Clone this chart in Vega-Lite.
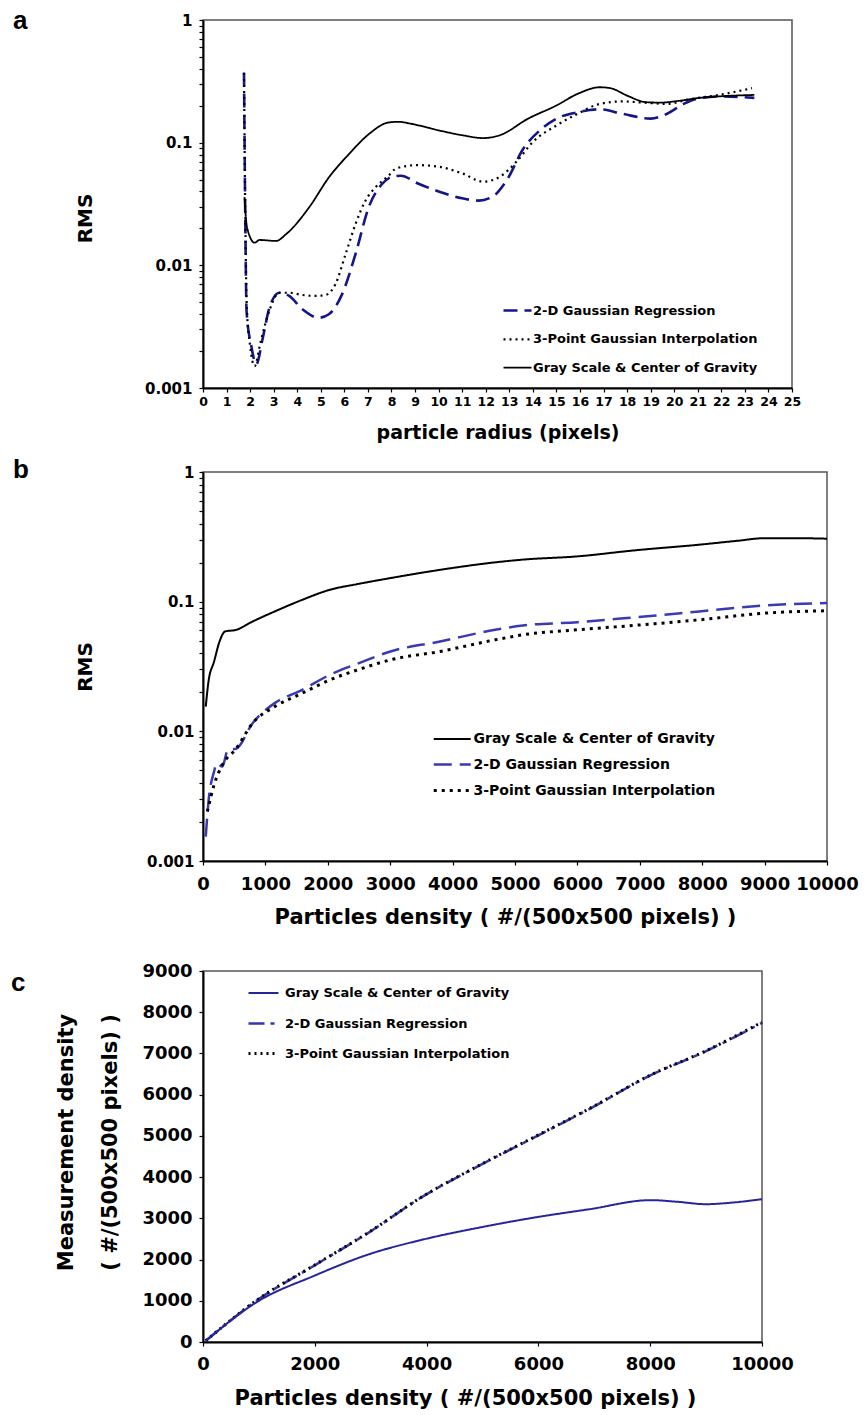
{
"$schema":"https://vega.github.io/schema/vega-lite/v6.json",
"padding":{"top":7,"left":10,"right":5,"bottom":5},
"background":"white",
"datasets":{
"pa":[
{"x":1.74,"y":0.373,"s":"2-D Gaussian Regression"},{"x":1.79,"y":0.03,"s":"2-D Gaussian Regression"},{"x":1.85,"y":0.0042,"s":"2-D Gaussian Regression"},{"x":2.05,"y":0.0022,"s":"2-D Gaussian Regression"},{"x":2.26,"y":0.00156,"s":"2-D Gaussian Regression"},{"x":2.54,"y":0.00257,"s":"2-D Gaussian Regression"},{"x":2.82,"y":0.00452,"s":"2-D Gaussian Regression"},{"x":3.24,"y":0.00598,"s":"2-D Gaussian Regression"},{"x":3.66,"y":0.00563,"s":"2-D Gaussian Regression"},{"x":4.22,"y":0.00438,"s":"2-D Gaussian Regression"},{"x":4.92,"y":0.00374,"s":"2-D Gaussian Regression"},{"x":5.34,"y":0.00399,"s":"2-D Gaussian Regression"},{"x":5.9,"y":0.0058,"s":"2-D Gaussian Regression"},{"x":6.47,"y":0.0123,"s":"2-D Gaussian Regression"},{"x":7.03,"y":0.0296,"s":"2-D Gaussian Regression"},{"x":7.59,"y":0.0458,"s":"2-D Gaussian Regression"},{"x":8.0,"y":0.0525,"s":"2-D Gaussian Regression"},{"x":8.4,"y":0.0538,"s":"2-D Gaussian Regression"},{"x":9.1,"y":0.0467,"s":"2-D Gaussian Regression"},{"x":10,"y":0.04,"s":"2-D Gaussian Regression"},{"x":11,"y":0.0352,"s":"2-D Gaussian Regression"},{"x":11.7,"y":0.0337,"s":"2-D Gaussian Regression"},{"x":12.3,"y":0.0364,"s":"2-D Gaussian Regression"},{"x":12.9,"y":0.0497,"s":"2-D Gaussian Regression"},{"x":13.6,"y":0.0895,"s":"2-D Gaussian Regression"},{"x":14.3,"y":0.126,"s":"2-D Gaussian Regression"},{"x":15,"y":0.157,"s":"2-D Gaussian Regression"},{"x":15.9,"y":0.177,"s":"2-D Gaussian Regression"},{"x":16.85,"y":0.187,"s":"2-D Gaussian Regression"},{"x":17.8,"y":0.172,"s":"2-D Gaussian Regression"},{"x":19,"y":0.157,"s":"2-D Gaussian Regression"},{"x":19.7,"y":0.172,"s":"2-D Gaussian Regression"},{"x":20.4,"y":0.207,"s":"2-D Gaussian Regression"},{"x":21.1,"y":0.231,"s":"2-D Gaussian Regression"},{"x":22,"y":0.238,"s":"2-D Gaussian Regression"},{"x":23.4,"y":0.232,"s":"2-D Gaussian Regression"},
{"x":1.74,"y":0.37,"s":"3-Point Gaussian Interpolation"},{"x":1.79,"y":0.03,"s":"3-Point Gaussian Interpolation"},{"x":1.86,"y":0.0045,"s":"3-Point Gaussian Interpolation"},{"x":2.0,"y":0.0022,"s":"3-Point Gaussian Interpolation"},{"x":2.19,"y":0.00151,"s":"3-Point Gaussian Interpolation"},{"x":2.45,"y":0.0024,"s":"3-Point Gaussian Interpolation"},{"x":2.82,"y":0.0043,"s":"3-Point Gaussian Interpolation"},{"x":3.24,"y":0.00598,"s":"3-Point Gaussian Interpolation"},{"x":3.66,"y":0.00598,"s":"3-Point Gaussian Interpolation"},{"x":4.22,"y":0.00573,"s":"3-Point Gaussian Interpolation"},{"x":4.78,"y":0.00563,"s":"3-Point Gaussian Interpolation"},{"x":5.2,"y":0.00573,"s":"3-Point Gaussian Interpolation"},{"x":5.62,"y":0.00701,"s":"3-Point Gaussian Interpolation"},{"x":6.05,"y":0.0123,"s":"3-Point Gaussian Interpolation"},{"x":6.47,"y":0.0216,"s":"3-Point Gaussian Interpolation"},{"x":6.89,"y":0.0335,"s":"3-Point Gaussian Interpolation"},{"x":7.31,"y":0.043,"s":"3-Point Gaussian Interpolation"},{"x":7.87,"y":0.0536,"s":"3-Point Gaussian Interpolation"},{"x":8.2,"y":0.0617,"s":"3-Point Gaussian Interpolation"},{"x":9.1,"y":0.0656,"s":"3-Point Gaussian Interpolation"},{"x":10,"y":0.0637,"s":"3-Point Gaussian Interpolation"},{"x":11,"y":0.0562,"s":"3-Point Gaussian Interpolation"},{"x":11.9,"y":0.0481,"s":"3-Point Gaussian Interpolation"},{"x":12.6,"y":0.0528,"s":"3-Point Gaussian Interpolation"},{"x":13.3,"y":0.0698,"s":"3-Point Gaussian Interpolation"},{"x":14,"y":0.1014,"s":"3-Point Gaussian Interpolation"},{"x":15,"y":0.138,"s":"3-Point Gaussian Interpolation"},{"x":15.9,"y":0.172,"s":"3-Point Gaussian Interpolation"},{"x":16.85,"y":0.207,"s":"3-Point Gaussian Interpolation"},{"x":17.8,"y":0.217,"s":"3-Point Gaussian Interpolation"},{"x":18.7,"y":0.212,"s":"3-Point Gaussian Interpolation"},{"x":19.7,"y":0.207,"s":"3-Point Gaussian Interpolation"},{"x":20.6,"y":0.225,"s":"3-Point Gaussian Interpolation"},{"x":21.8,"y":0.243,"s":"3-Point Gaussian Interpolation"},{"x":23.3,"y":0.278,"s":"3-Point Gaussian Interpolation"},
{"x":1.76,"y":0.036,"s":"Gray Scale & Center of Gravity"},{"x":1.87,"y":0.0203,"s":"Gray Scale & Center of Gravity"},{"x":2.19,"y":0.0153,"s":"Gray Scale & Center of Gravity"},{"x":2.4,"y":0.0161,"s":"Gray Scale & Center of Gravity"},{"x":3.1,"y":0.0158,"s":"Gray Scale & Center of Gravity"},{"x":3.52,"y":0.0179,"s":"Gray Scale & Center of Gravity"},{"x":4.5,"y":0.0296,"s":"Gray Scale & Center of Gravity"},{"x":5.34,"y":0.052,"s":"Gray Scale & Center of Gravity"},{"x":6.19,"y":0.0805,"s":"Gray Scale & Center of Gravity"},{"x":7.03,"y":0.117,"s":"Gray Scale & Center of Gravity"},{"x":7.87,"y":0.146,"s":"Gray Scale & Center of Gravity"},{"x":8.3,"y":0.148,"s":"Gray Scale & Center of Gravity"},{"x":8.8,"y":0.143,"s":"Gray Scale & Center of Gravity"},{"x":10,"y":0.126,"s":"Gray Scale & Center of Gravity"},{"x":11,"y":0.115,"s":"Gray Scale & Center of Gravity"},{"x":11.9,"y":0.109,"s":"Gray Scale & Center of Gravity"},{"x":12.6,"y":0.115,"s":"Gray Scale & Center of Gravity"},{"x":13.8,"y":0.157,"s":"Gray Scale & Center of Gravity"},{"x":15,"y":0.201,"s":"Gray Scale & Center of Gravity"},{"x":15.9,"y":0.25,"s":"Gray Scale & Center of Gravity"},{"x":16.85,"y":0.283,"s":"Gray Scale & Center of Gravity"},{"x":17.3,"y":0.278,"s":"Gray Scale & Center of Gravity"},{"x":18,"y":0.242,"s":"Gray Scale & Center of Gravity"},{"x":18.8,"y":0.214,"s":"Gray Scale & Center of Gravity"},{"x":19.4,"y":0.212,"s":"Gray Scale & Center of Gravity"},{"x":20.1,"y":0.218,"s":"Gray Scale & Center of Gravity"},{"x":21.1,"y":0.232,"s":"Gray Scale & Center of Gravity"},{"x":22,"y":0.239,"s":"Gray Scale & Center of Gravity"},{"x":23.4,"y":0.245,"s":"Gray Scale & Center of Gravity"}
],
"pb":[
{"x":44,"y":0.00154,"s":"2-D Gaussian Regression"},{"x":88,"y":0.00287,"s":"2-D Gaussian Regression"},{"x":177,"y":0.00489,"s":"2-D Gaussian Regression"},{"x":221,"y":0.00567,"s":"2-D Gaussian Regression"},{"x":309,"y":0.00535,"s":"2-D Gaussian Regression"},{"x":398,"y":0.00719,"s":"2-D Gaussian Regression"},{"x":530,"y":0.00734,"s":"2-D Gaussian Regression"},{"x":795,"y":0.01156,"s":"2-D Gaussian Regression"},{"x":1148,"y":0.0165,"s":"2-D Gaussian Regression"},{"x":1590,"y":0.0209,"s":"2-D Gaussian Regression"},{"x":2032,"y":0.0273,"s":"2-D Gaussian Regression"},{"x":2562,"y":0.0345,"s":"2-D Gaussian Regression"},{"x":3004,"y":0.0413,"s":"2-D Gaussian Regression"},{"x":3799,"y":0.0493,"s":"2-D Gaussian Regression"},{"x":4682,"y":0.0607,"s":"2-D Gaussian Regression"},{"x":5124,"y":0.0655,"s":"2-D Gaussian Regression"},{"x":6007,"y":0.0695,"s":"2-D Gaussian Regression"},{"x":6891,"y":0.0755,"s":"2-D Gaussian Regression"},{"x":7951,"y":0.084,"s":"2-D Gaussian Regression"},{"x":9011,"y":0.0935,"s":"2-D Gaussian Regression"},{"x":10000,"y":0.0975,"s":"2-D Gaussian Regression"},
{"x":70,"y":0.0024,"s":"3-Point Gaussian Interpolation"},{"x":177,"y":0.00386,"s":"3-Point Gaussian Interpolation"},{"x":309,"y":0.0055,"s":"3-Point Gaussian Interpolation"},{"x":530,"y":0.00734,"s":"3-Point Gaussian Interpolation"},{"x":795,"y":0.01156,"s":"3-Point Gaussian Interpolation"},{"x":1148,"y":0.0155,"s":"3-Point Gaussian Interpolation"},{"x":1590,"y":0.0197,"s":"3-Point Gaussian Interpolation"},{"x":2032,"y":0.0249,"s":"3-Point Gaussian Interpolation"},{"x":2562,"y":0.0307,"s":"3-Point Gaussian Interpolation"},{"x":3004,"y":0.0356,"s":"3-Point Gaussian Interpolation"},{"x":3799,"y":0.0413,"s":"3-Point Gaussian Interpolation"},{"x":4682,"y":0.0508,"s":"3-Point Gaussian Interpolation"},{"x":5124,"y":0.0555,"s":"3-Point Gaussian Interpolation"},{"x":6007,"y":0.0607,"s":"3-Point Gaussian Interpolation"},{"x":6891,"y":0.0655,"s":"3-Point Gaussian Interpolation"},{"x":7951,"y":0.0724,"s":"3-Point Gaussian Interpolation"},{"x":9011,"y":0.0816,"s":"3-Point Gaussian Interpolation"},{"x":10000,"y":0.0851,"s":"3-Point Gaussian Interpolation"},
{"x":44,"y":0.0155,"s":"Gray Scale & Center of Gravity"},{"x":88,"y":0.0242,"s":"Gray Scale & Center of Gravity"},{"x":177,"y":0.0345,"s":"Gray Scale & Center of Gravity"},{"x":265,"y":0.0493,"s":"Gray Scale & Center of Gravity"},{"x":353,"y":0.0589,"s":"Gray Scale & Center of Gravity"},{"x":530,"y":0.0606,"s":"Gray Scale & Center of Gravity"},{"x":795,"y":0.0703,"s":"Gray Scale & Center of Gravity"},{"x":1148,"y":0.084,"s":"Gray Scale & Center of Gravity"},{"x":1590,"y":0.1033,"s":"Gray Scale & Center of Gravity"},{"x":2032,"y":0.1235,"s":"Gray Scale & Center of Gravity"},{"x":2474,"y":0.1366,"s":"Gray Scale & Center of Gravity"},{"x":3004,"y":0.152,"s":"Gray Scale & Center of Gravity"},{"x":3799,"y":0.176,"s":"Gray Scale & Center of Gravity"},{"x":4682,"y":0.201,"s":"Gray Scale & Center of Gravity"},{"x":5124,"y":0.211,"s":"Gray Scale & Center of Gravity"},{"x":6007,"y":0.2236,"s":"Gray Scale & Center of Gravity"},{"x":6891,"y":0.248,"s":"Gray Scale & Center of Gravity"},{"x":7951,"y":0.275,"s":"Gray Scale & Center of Gravity"},{"x":8569,"y":0.295,"s":"Gray Scale & Center of Gravity"},{"x":9011,"y":0.309,"s":"Gray Scale & Center of Gravity"},{"x":9452,"y":0.309,"s":"Gray Scale & Center of Gravity"},{"x":10000,"y":0.306,"s":"Gray Scale & Center of Gravity"}
],
"pc":[
{"x":50,"y":30,"s":"2-D Gaussian Regression"},{"x":988,"y":1031,"s":"2-D Gaussian Regression"},{"x":1976,"y":1842,"s":"2-D Gaussian Regression"},{"x":2964,"y":2654,"s":"2-D Gaussian Regression"},{"x":3952,"y":3546,"s":"2-D Gaussian Regression"},{"x":4941,"y":4277,"s":"2-D Gaussian Regression"},{"x":5929,"y":4966,"s":"2-D Gaussian Regression"},{"x":6917,"y":5656,"s":"2-D Gaussian Regression"},{"x":8004,"y":6468,"s":"2-D Gaussian Regression"},{"x":8992,"y":7052,"s":"2-D Gaussian Regression"},{"x":10000,"y":7742,"s":"2-D Gaussian Regression"},
{"x":50,"y":30,"s":"3-Point Gaussian Interpolation"},{"x":988,"y":1040,"s":"3-Point Gaussian Interpolation"},{"x":1976,"y":1850,"s":"3-Point Gaussian Interpolation"},{"x":2964,"y":2660,"s":"3-Point Gaussian Interpolation"},{"x":3952,"y":3550,"s":"3-Point Gaussian Interpolation"},{"x":4941,"y":4285,"s":"3-Point Gaussian Interpolation"},{"x":5929,"y":4975,"s":"3-Point Gaussian Interpolation"},{"x":6917,"y":5665,"s":"3-Point Gaussian Interpolation"},{"x":8004,"y":6475,"s":"3-Point Gaussian Interpolation"},{"x":8992,"y":7060,"s":"3-Point Gaussian Interpolation"},{"x":10000,"y":7760,"s":"3-Point Gaussian Interpolation"},
{"x":50,"y":30,"s":"Gray Scale & Center of Gravity"},{"x":988,"y":990,"s":"Gray Scale & Center of Gravity"},{"x":1976,"y":1599,"s":"Gray Scale & Center of Gravity"},{"x":2964,"y":2126,"s":"Gray Scale & Center of Gravity"},{"x":3952,"y":2491,"s":"Gray Scale & Center of Gravity"},{"x":4941,"y":2775,"s":"Gray Scale & Center of Gravity"},{"x":5929,"y":3019,"s":"Gray Scale & Center of Gravity"},{"x":6917,"y":3222,"s":"Gray Scale & Center of Gravity"},{"x":8004,"y":3441,"s":"Gray Scale & Center of Gravity"},{"x":8498,"y":3400,"s":"Gray Scale & Center of Gravity"},{"x":8992,"y":3343,"s":"Gray Scale & Center of Gravity"},{"x":9486,"y":3384,"s":"Gray Scale & Center of Gravity"},{"x":10000,"y":3465,"s":"Gray Scale & Center of Gravity"}
]
},
"config":{
"view":{"stroke":"#555555","strokeWidth":1.5},
"axis":{"domainColor":"#000000","domainWidth":2,"tickColor":"#000000","tickWidth":1.2,"grid":false,"labelFont":"DejaVu Sans","labelFontWeight":"bold","labelColor":"#000000","titleFont":"DejaVu Sans","titleFontWeight":"bold","titleColor":"#000000","labelFlush":false,"labelOverlap":false,"labelBound":false},
"legend":{"labelFont":"DejaVu Sans","labelFontWeight":"bold","labelColor":"#000000","padding":0,"title":null,"labelLimit":0},
"line":{"interpolate":"monotone"}
},
"bounds":"full",
"spacing":33,
"resolve":{"scale":{"color":"independent","strokeDash":"independent","strokeWidth":"independent"},"legend":{"color":"independent","strokeDash":"independent"}},
"vconcat":[
{
"bounds":"flush",
"spacing":84,
"resolve":{"scale":{"color":"independent","strokeDash":"independent","strokeWidth":"independent"},"legend":{"color":"independent","strokeDash":"independent"}},
"vconcat":[
{
"width":589,"height":368,
"title":{"text":"a","anchor":"start","frame":"group","baseline":"alphabetic","offset":0,"dx":-190,"dy":42,"fontSize":26,"font":"Liberation Sans","fontWeight":"bold","color":"#000000"},
"data":{"name":"pa"},
"mark":{"type":"line","interpolate":"monotone"},
"encoding":{
"x":{"field":"x","type":"quantitative","scale":{"domain":[0,25],"nice":false},
"axis":{"values":[0,1,2,3,4,5,6,7,8,9,10,11,12,13,14,15,16,17,18,19,20,21,22,23,24,25],"title":"particle radius (pixels)","labelFontSize":12.5,"tickSize":4,"labelPadding":3,"titleFontSize":19,"titlePadding":16}},
"y":{"field":"y","type":"quantitative","scale":{"type":"log","domain":[0.001,1],"nice":false},
"axis":{"values":[0.001,0.002,0.003,0.004,0.005,0.006,0.007,0.008,0.009,0.01,0.02,0.03,0.04,0.05,0.06,0.07,0.08,0.09,0.1,0.2,0.3,0.4,0.5,0.6,0.7,0.8,0.9,1],
"labelExpr":"datum.value==1?'1':datum.value==0.1?'0.1':datum.value==0.01?'0.01':datum.value==0.001?'0.001':''",
"title":"RMS","labelFontSize":15,"tickSize":4,"labelPadding":7,"titleFontSize":20,"titlePadding":49,"titleY":198}},
"color":{"field":"s","type":"nominal","scale":{"domain":["2-D Gaussian Regression","3-Point Gaussian Interpolation","Gray Scale & Center of Gravity"],"range":["#15158a","#000000","#000000"]},
"legend":{"orient":"none","legendX":299,"legendY":282,"symbolType":"M-1,0H3","symbolSize":196,"symbolStrokeWidth":2.5,"labelFontSize":13,"labelOffset":14,"rowPadding":12.8,"title":null,"labelLimit":0}},
"strokeDash":{"field":"s","type":"nominal","scale":{"domain":["2-D Gaussian Regression","3-Point Gaussian Interpolation","Gray Scale & Center of Gravity"],"range":[[14,7],[2,4],[1,0]]},
"legend":{"orient":"none","legendX":299,"legendY":282,"symbolType":"M-1,0H3","symbolSize":196,"symbolStrokeWidth":2.5,"labelFontSize":13,"labelOffset":14,"rowPadding":12.8,"title":null,"labelLimit":0}},
"strokeWidth":{"field":"s","type":"nominal","scale":{"domain":["2-D Gaussian Regression","3-Point Gaussian Interpolation","Gray Scale & Center of Gravity"],"range":[2.6,1.8,1.8]},"legend":null}
}
},
{
"width":624,"height":389,
"title":{"text":"b","anchor":"start","frame":"group","baseline":"alphabetic","offset":0,"dx":-190,"dy":39,"fontSize":26,"font":"Liberation Sans","fontWeight":"bold","color":"#000000"},
"data":{"name":"pb"},
"mark":{"type":"line","interpolate":"monotone"},
"encoding":{
"x":{"field":"x","type":"quantitative","scale":{"domain":[0,10000],"nice":false},
"axis":{"values":[0,1000,2000,3000,4000,5000,6000,7000,8000,9000,10000],"format":"d","title":"Particles density ( #/(500x500 pixels) )","titleX":302,"labelFontSize":18,"tickSize":4,"labelPadding":10,"titleFontSize":21,"titlePadding":13}},
"y":{"field":"y","type":"quantitative","scale":{"type":"log","domain":[0.001,1],"nice":false},
"axis":{"values":[0.001,0.002,0.003,0.004,0.005,0.006,0.007,0.008,0.009,0.01,0.02,0.03,0.04,0.05,0.06,0.07,0.08,0.09,0.1,0.2,0.3,0.4,0.5,0.6,0.7,0.8,0.9,1],
"labelExpr":"datum.value==1?'1':datum.value==0.1?'0.1':datum.value==0.01?'0.01':datum.value==0.001?'0.001':''",
"title":"RMS","labelFontSize":15,"tickSize":4,"labelPadding":5,"titleFontSize":20,"titlePadding":51}},
"color":{"field":"s","type":"nominal","scale":{"domain":["Gray Scale & Center of Gravity","2-D Gaussian Regression","3-Point Gaussian Interpolation"],"range":["#000000","#3a3ab2","#000000"]},
"legend":{"orient":"none","legendX":229,"legendY":256.5,"symbolType":"M-1,0H3","symbolSize":342,"symbolStrokeWidth":2.5,"labelFontSize":14,"labelOffset":19.5,"rowPadding":7.5,"title":null,"labelLimit":0}},
"strokeDash":{"field":"s","type":"nominal","scale":{"domain":["Gray Scale & Center of Gravity","2-D Gaussian Regression","3-Point Gaussian Interpolation"],"range":[[1,0],[18,8],[3,5]]},
"legend":{"orient":"none","legendX":229,"legendY":256.5,"symbolType":"M-1,0H3","symbolSize":342,"symbolStrokeWidth":2.5,"labelFontSize":14,"labelOffset":19.5,"rowPadding":7.5,"title":null,"labelLimit":0}},
"strokeWidth":{"field":"s","type":"nominal","scale":{"domain":["Gray Scale & Center of Gravity","2-D Gaussian Regression","3-Point Gaussian Interpolation"],"range":[2,3,1.8]},"legend":null}
}
}
]
},
{
"width":559,"height":371,
"title":{"text":"c","anchor":"start","frame":"group","baseline":"alphabetic","offset":0,"dx":-192,"dy":55,"fontSize":26,"font":"Liberation Sans","fontWeight":"bold","color":"#000000"},
"data":{"name":"pc"},
"mark":{"type":"line","interpolate":"monotone"},
"encoding":{
"x":{"field":"x","type":"quantitative","scale":{"domain":[0,10000],"nice":false},
"axis":{"values":[0,2000,4000,6000,8000,10000],"format":"d","title":"Particles density ( #/(500x500 pixels) )","titleX":262,"labelFontSize":18,"tickSize":4,"labelPadding":9,"titleFontSize":21,"titlePadding":14}},
"y":{"field":"y","type":"quantitative","scale":{"domain":[0,9000],"nice":false},
"axis":{"values":[0,1000,2000,3000,4000,5000,6000,7000,8000,9000],"format":"d","title":["Measurement density","( #/(500x500 pixels) )"],"titleLineHeight":44,"titleY":171,"labelFontSize":18,"tickSize":4,"labelPadding":7,"titleFontSize":21,"titlePadding":21}},
"color":{"field":"s","type":"nominal","scale":{"domain":["Gray Scale & Center of Gravity","2-D Gaussian Regression","3-Point Gaussian Interpolation"],"range":["#26269c","#3535ad","#000000"]},
"legend":{"orient":"none","legendX":44,"legendY":13.5,"symbolType":"M-1,0H3","symbolSize":225,"symbolStrokeWidth":2.5,"labelFontSize":13,"labelOffset":20,"rowPadding":14,"title":null,"labelLimit":0}},
"strokeDash":{"field":"s","type":"nominal","scale":{"domain":["Gray Scale & Center of Gravity","2-D Gaussian Regression","3-Point Gaussian Interpolation"],"range":[[1,0],[16,6,4,6],[2,4]]},
"legend":{"orient":"none","legendX":44,"legendY":13.5,"symbolType":"M-1,0H3","symbolSize":225,"symbolStrokeWidth":2.5,"labelFontSize":13,"labelOffset":20,"rowPadding":14,"title":null,"labelLimit":0}},
"strokeWidth":{"field":"s","type":"nominal","scale":{"domain":["Gray Scale & Center of Gravity","2-D Gaussian Regression","3-Point Gaussian Interpolation"],"range":[2,3,1.8]},"legend":null}
}
}
]
}
